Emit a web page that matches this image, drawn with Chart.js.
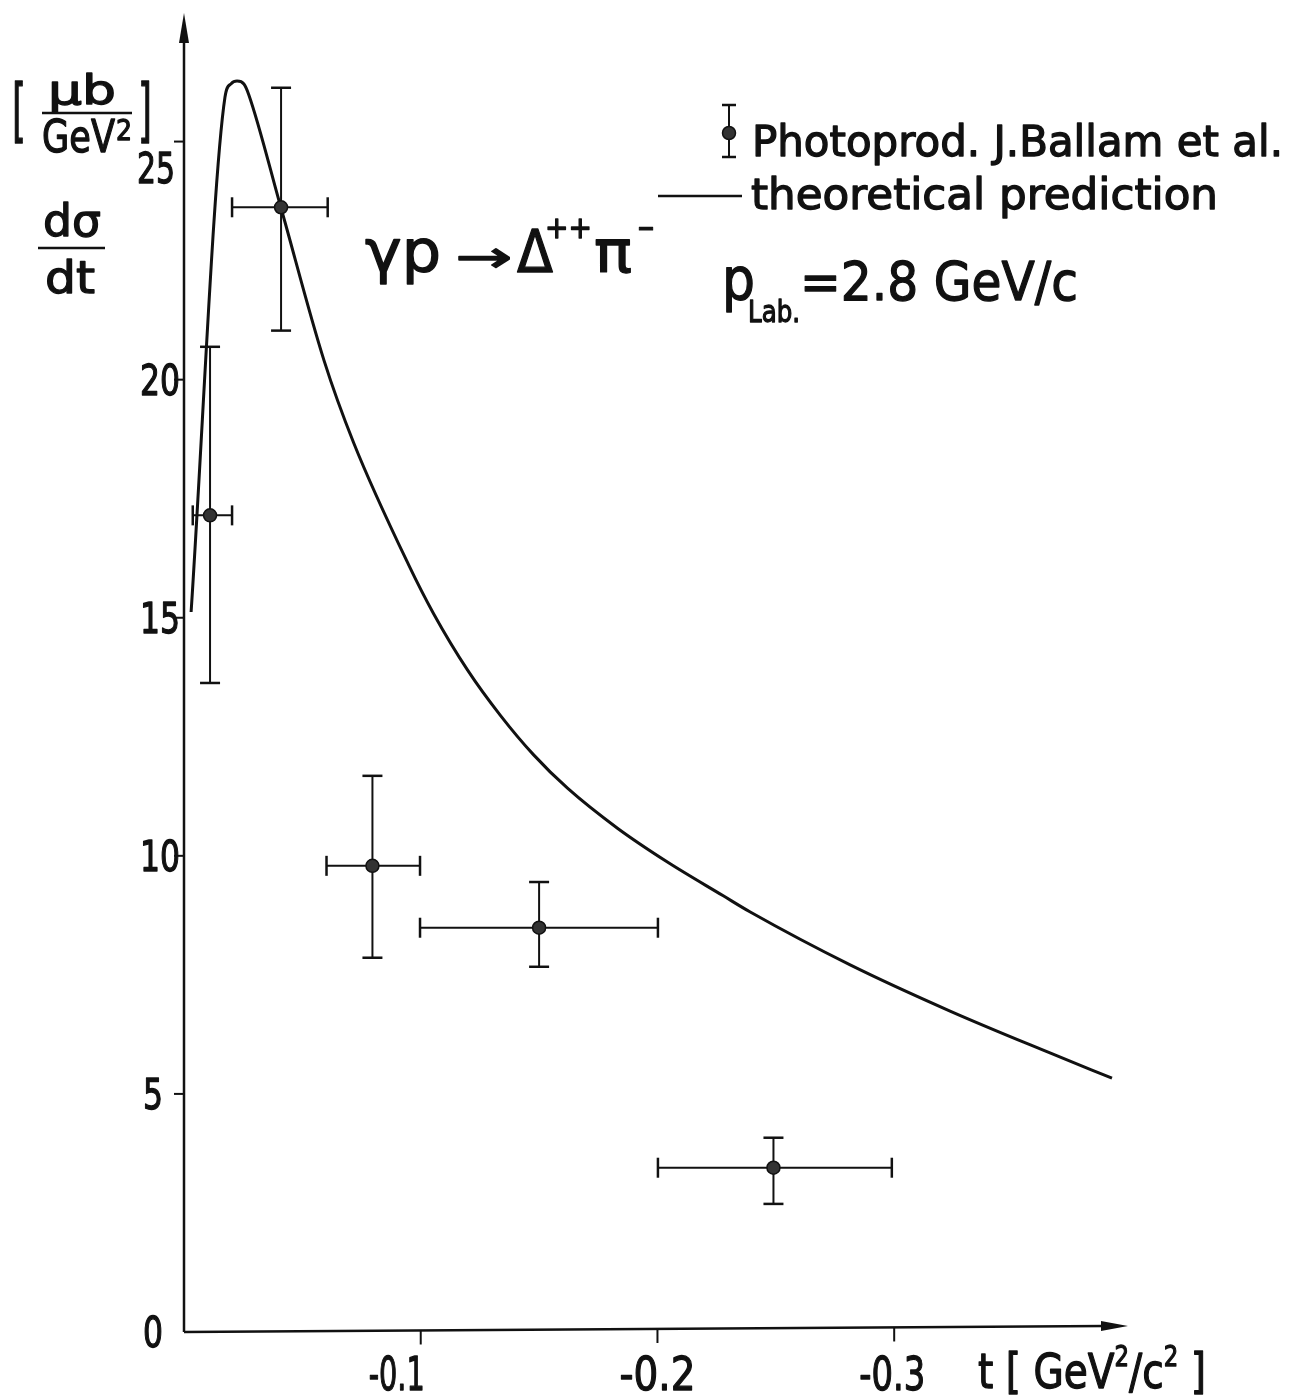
<!DOCTYPE html>
<html>
<head>
<meta charset="utf-8">
<script src="https://cdn.jsdelivr.net/npm/chart.js@4.4.1/dist/chart.umd.min.js"></script>
<style>
  html, body { margin: 0; padding: 0; background: #fff; }
</style>
</head>
<body>
<canvas id="c" width="1307" height="1399"></canvas>
<script>
// measured points (Ballam et al.)
const tCenters   = [-0.011, -0.041, -0.0796, -0.15, -0.249];
const dsdtValues = [17.15, 23.62, 9.79, 8.49, 3.45];
const dsdtLow    = [13.63, 21.03, 7.86, 7.67, 2.69];
const dsdtHigh   = [20.69, 26.13, 11.68, 9.45, 4.08];
const tBinNear   = [-0.0037, -0.0203, -0.0602, -0.0997, -0.2002];
const tBinFar    = [-0.0203, -0.0607, -0.0997, -0.2002, -0.2990];

// theoretical curve
const curveT      = [-0.0030, -0.0173, -0.0198, -0.0224, -0.0253, -0.0274, -0.0409, -0.0591, -0.0717,
                     -0.0949, -0.1055, -0.1198, -0.1338, -0.1477, -0.1620, -0.1831, -0.2042, -0.2278,
                     -0.2392, -0.2814, -0.3236, -0.3658, -0.3920];
const curveValues = [15.12, 25.93, 26.21, 26.27, 26.21, 25.98, 23.62, 20.41, 18.67,
                     16.11, 15.08, 13.90, 12.94, 12.12, 11.42, 10.58, 9.87, 9.16,
                     8.82, 7.71, 6.74, 5.86, 5.33];

const yTicks = [0, 5, 10, 15, 20, 25];
const xTicks = [-0.1, -0.2, -0.3];
const xTickLabels = ['-0.1', '-0.2', '-0.3'];

const INK = '#111';
const FONT = '"DejaVu Sans", "Liberation Sans", sans-serif';

// draw a row of text pieces, squeezed to a target width
function runs(ctx, parts, x, y, width, align) {
  let total = 0;
  parts.forEach(p => {
    ctx.font = p.size + 'px ' + FONT;
    p.w = ctx.measureText(p.t).width;
    total += p.w;
  });
  const k = width ? width / total : 1;
  let x0 = x;
  if (align === 'center') x0 = x - total * k / 2;
  if (align === 'right') x0 = x - total * k;
  ctx.save();
  ctx.translate(x0, y);
  ctx.scale(k, 1);
  ctx.textBaseline = 'alphabetic';
  ctx.textAlign = 'left';
  ctx.lineWidth = 1.3;
  ctx.lineJoin = 'round';
  let cx = 0;
  parts.forEach(p => {
    ctx.font = p.size + 'px ' + FONT;
    ctx.fillText(p.t, cx, p.dy || 0);
    ctx.strokeText(p.t, cx, p.dy || 0);
    cx += p.w;
  });
  ctx.restore();
}
function txt(ctx, t, size, x, y, width, align) {
  runs(ctx, [{ t: t, size: size }], x, y, width, align);
}
function line(ctx, x1, y1, x2, y2, w) {
  ctx.lineWidth = w;
  ctx.beginPath();
  ctx.moveTo(x1, y1);
  ctx.lineTo(x2, y2);
  ctx.stroke();
}

const errorBars = {
  id: 'errorBars',
  beforeDatasetsDraw(chart) {
    const ctx = chart.ctx, xs = chart.scales.x, ys = chart.scales.y;
    ctx.save();
    ctx.strokeStyle = INK;
    ctx.lineCap = 'butt';
    tCenters.forEach((t, i) => {
      const px = xs.getPixelForValue(t), py = ys.getPixelForValue(dsdtValues[i]);
      const yLo = ys.getPixelForValue(dsdtLow[i]), yHi = ys.getPixelForValue(dsdtHigh[i]);
      const xN = xs.getPixelForValue(tBinNear[i]), xF = xs.getPixelForValue(tBinFar[i]);
      line(ctx, px, yLo, px, yHi, 2);
      line(ctx, px - 10, yLo, px + 10, yLo, 2.5);
      line(ctx, px - 10, yHi, px + 10, yHi, 2.5);
      line(ctx, xN, py, xF, py, 2);
      line(ctx, xN, py - 10, xN, py + 10, 2.5);
      line(ctx, xF, py - 10, xF, py + 10, 2.5);
    });
    ctx.restore();
  }
};

const axesAndText = {
  id: 'axesAndText',
  afterDraw(chart) {
    const ctx = chart.ctx, xs = chart.scales.x, ys = chart.scales.y;
    const a = chart.chartArea;
    const x0 = xs.getPixelForValue(0), y0 = ys.getPixelForValue(0);
    ctx.save();
    ctx.strokeStyle = INK;
    ctx.fillStyle = INK;

    // y axis with arrow
    line(ctx, x0, y0, x0, a.top + 20, 2.5);
    ctx.beginPath();
    ctx.moveTo(x0, a.top);
    ctx.lineTo(x0 - 5, a.top + 30);
    ctx.lineTo(x0 + 5, a.top + 30);
    ctx.closePath();
    ctx.fill();
    // x axis with arrow
    line(ctx, x0, y0, a.right - 20, y0 - 6, 2.5);
    ctx.beginPath();
    ctx.moveTo(a.right + 3, y0 - 6);
    ctx.lineTo(a.right - 24, y0 - 11);
    ctx.lineTo(a.right - 24, y0 - 1);
    ctx.closePath();
    ctx.fill();

    // y ticks + labels
    yTicks.forEach(v => {
      const py = ys.getPixelForValue(v);
      if (v > 0) line(ctx, x0 - 10, py, x0, py, 2);
      const lbl = String(v);
      if (v === 25) {
        txt(ctx, lbl, 42, 137, 183, 38);
      } else if (lbl.length === 2) {
        txt(ctx, lbl, 42, 160, py + 15, 40, 'center');
      } else {
        txt(ctx, lbl, 42, 153, py + 15, 20, 'center');
      }
    });

    // x ticks + labels
    const labelShift = [-24, 0, -2];
    const labelW = [56, 76, 66];
    xTicks.forEach((v, i) => {
      const px = xs.getPixelForValue(v);
      const drift = (px - x0) / (a.right - x0) * 6;
      line(ctx, px, y0 - drift, px, y0 - drift + 14, 2);
      txt(ctx, xTickLabels[i], 46, px + labelShift[i], 1390, labelW[i], 'center');
    });
    runs(ctx, [
      { t: 't', size: 48 }, { t: ' [ ', size: 48 }, { t: 'GeV', size: 48 },
      { t: '2', size: 28, dy: -22 }, { t: '/c', size: 48 }, { t: '2', size: 28, dy: -22 },
      { t: ' ]', size: 48 }
    ], 978, 1388, 228);

    // y unit label
    txt(ctx, '[', 70, 12, 134, 14);
    txt(ctx, ']', 70, 138, 134, 14);
    txt(ctx, 'μb', 40, 48, 104, 68);
    line(ctx, 42, 113, 132, 113, 2.5);
    txt(ctx, 'GeV', 44, 42, 152, 73);
    txt(ctx, '2', 28, 116, 140, 16);
    txt(ctx, 'dσ', 44, 43, 236, 58);
    line(ctx, 38, 248, 105, 248, 2.5);
    txt(ctx, 'dt', 44, 45, 293, 50);

    // legend
    line(ctx, 729, 105, 729, 157, 2);
    line(ctx, 722, 105, 736, 105, 2.5);
    line(ctx, 722, 157, 736, 157, 2.5);
    ctx.beginPath();
    ctx.arc(729, 133, 6.5, 0, Math.PI * 2);
    ctx.fillStyle = '#333';
    ctx.fill();
    ctx.lineWidth = 1.5;
    ctx.stroke();
    ctx.fillStyle = INK;
    txt(ctx, 'Photoprod. J.Ballam et al.', 42, 752, 156, 531);
    line(ctx, 658, 196, 742, 196, 2.5);
    txt(ctx, 'theoretical prediction', 42, 751, 209, 467);

    // reaction
    txt(ctx, 'γp', 58, 365, 272, 76);
    txt(ctx, '→', 44, 455, 272, 57);
    txt(ctx, 'Δ', 58, 517, 272, 36);
    txt(ctx, '++', 30, 545, 238, 47);
    txt(ctx, 'π', 58, 594, 272, 38);
    txt(ctx, '−', 30, 637, 238, 18);

    // beam momentum
    txt(ctx, 'p', 58, 722, 300, 33);
    txt(ctx, 'Lab.', 30, 748, 322, 52);
    txt(ctx, '=2.8 GeV/c', 54, 800, 300, 278);

    ctx.restore();
  }
};

new Chart(document.getElementById('c'), {
  type: 'scatter',
  data: {
    datasets: [
      {
        label: 'theoretical prediction',
        data: curveT.map((t, i) => ({ x: t, y: curveValues[i] })),
        showLine: true,
        borderColor: INK,
        borderWidth: 3,
        pointRadius: 0,
        cubicInterpolationMode: 'monotone',
        order: 2
      },
      {
        label: 'Photoprod. J.Ballam et al.',
        data: tCenters.map((t, i) => ({ x: t, y: dsdtValues[i] })),
        pointRadius: 6.5,
        backgroundColor: '#333',
        borderColor: INK,
        borderWidth: 1.5,
        order: 1
      }
    ]
  },
  options: {
    responsive: false,
    animation: false,
    devicePixelRatio: 1,
    layout: { padding: { left: 184, right: 182, top: 13, bottom: 67 } },
    scales: {
      x: { type: 'linear', reverse: true, min: -0.3975, max: 0, display: false },
      y: { min: 0, max: 27.7, display: false }
    },
    plugins: { legend: { display: false }, tooltip: { enabled: false } }
  },
  plugins: [errorBars, axesAndText]
});
</script>
</body>
</html>
